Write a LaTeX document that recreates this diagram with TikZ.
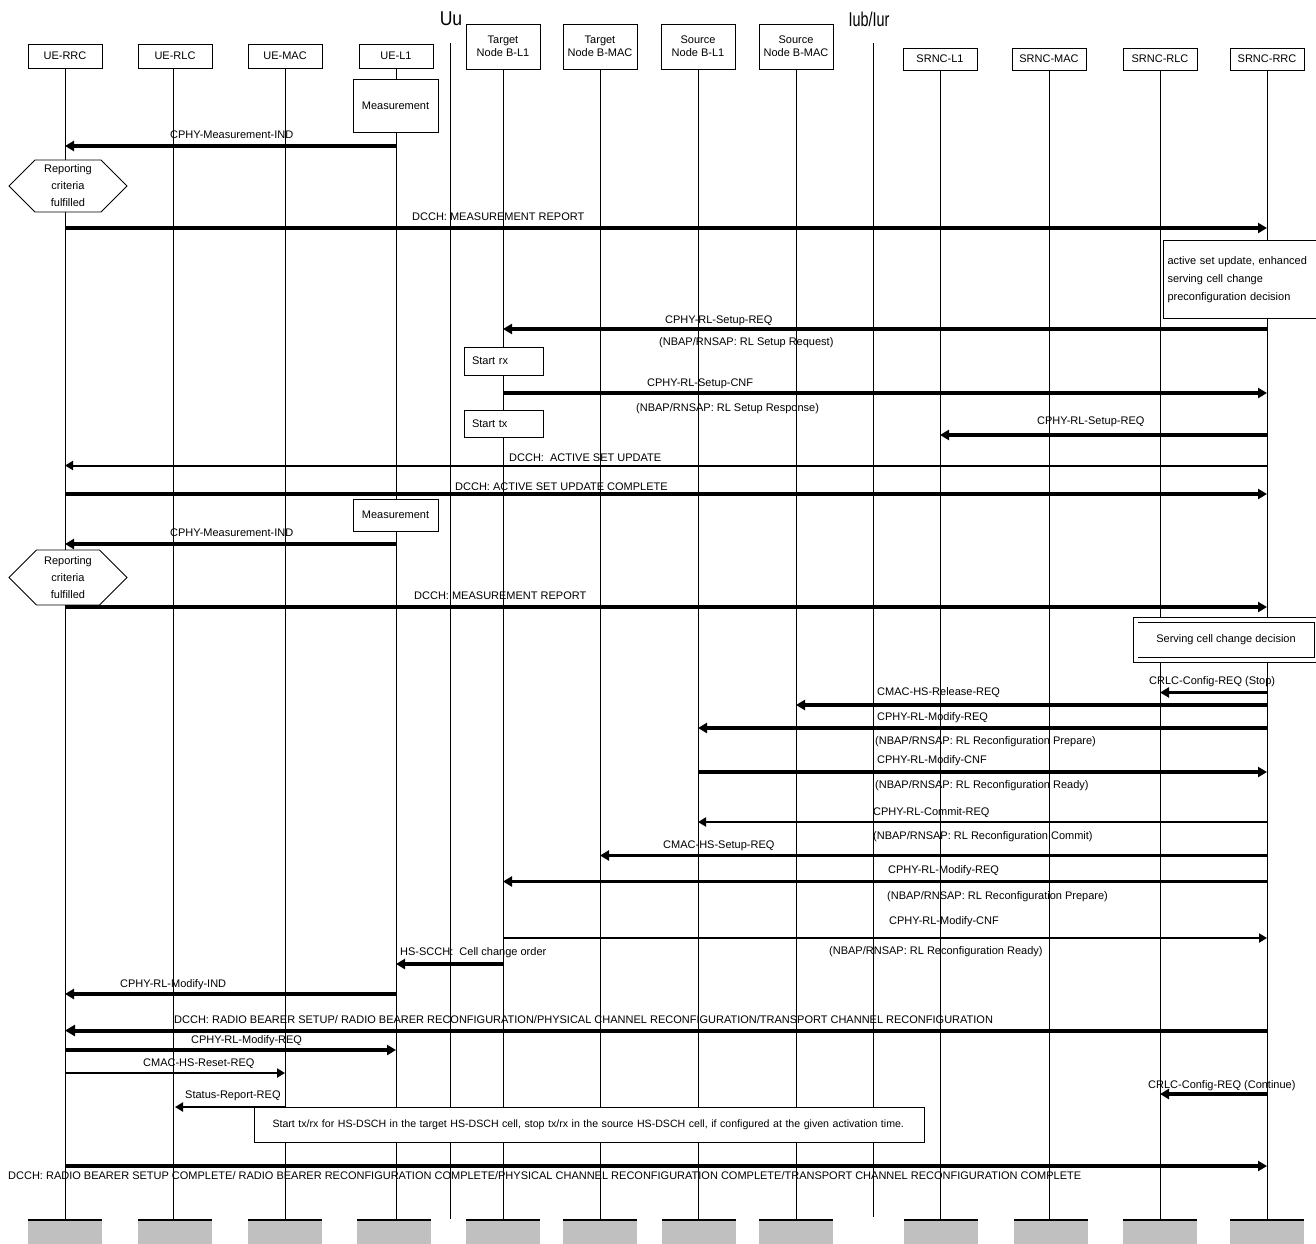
\documentclass[tikz,border=0pt]{standalone}
\usepackage{fontspec}
\setmainfont{Liberation Sans}
\usetikzlibrary{arrows.meta,shapes.symbols}
\definecolor{footgray}{HTML}{C0C0C0}
\begin{document}
\begin{tikzpicture}[x=1pt,y=-1pt,
  every node/.style={font=\fontsize{11}{13}\selectfont, inner sep=0pt},
  hdr/.style={draw, line width=0.8pt, minimum width=74pt, align=center, fill=white},
  life/.style={line width=0.8pt},
  msg/.style={line width=3.1pt, -{Triangle[length=9pt,width=10pt]}},
  msgt/.style={line width=2pt, -{Triangle[length=8pt,width=9pt]}},
  msgw/.style={line width=4pt, -{Triangle[length=10pt,width=11pt]}},
  lbl/.style={anchor=west},
  note/.style={draw, line width=1pt, fill=white},
  hexa/.style={draw, line width=0.8pt, fill=white, signal, signal to=west and east, signal pointer angle=90, minimum width=118pt, align=center, font=\fontsize{11}{17}\selectfont},
  foot/.style={fill=footgray, minimum width=74pt, minimum height=30pt, anchor=north},
]
\useasboundingbox (0,0) rectangle (1316,1243);

% ---- headers
\node[hdr, minimum height=24pt] (uerrc) at (65,56) {UE-RRC};
\node[hdr, minimum height=24pt] (uerlc) at (175,56) {UE-RLC};
\node[hdr, minimum height=24pt] (uemac) at (285,56) {UE-MAC};
\node[hdr, minimum height=24pt] (uel1) at (396,56) {UE-L1};
\node[hdr, minimum height=45pt] (tl1) at (503,46.5) {Target\\Node B-L1};
\node[hdr, minimum height=45pt] (tmac) at (600,46.5) {Target\\Node B-MAC};
\node[hdr, minimum height=45pt] (sl1) at (698,46.5) {Source\\Node B-L1};
\node[hdr, minimum height=45pt] (smac) at (796,46.5) {Source\\Node B-MAC};
\node[hdr, minimum height=22pt] (srncl1) at (940,59) {SRNC-L1};
\node[hdr, minimum height=22pt] (srncmac) at (1049,59) {SRNC-MAC};
\node[hdr, minimum height=22pt] (srncrlc) at (1160,59) {SRNC-RLC};
\node[hdr, minimum height=22pt] (srncrrc) at (1267,59) {SRNC-RRC};

% ---- footers
\node[foot] (fuerrc) at (65,1220) {};
\node[foot] (fuerlc) at (175,1220) {};
\node[foot] (fuemac) at (285,1220) {};
\node[foot] (fuel1) at (394,1220) {};
\node[foot] (ftl1) at (503,1220) {};
\node[foot] (ftmac) at (600,1220) {};
\node[foot] (fsl1) at (699,1220) {};
\node[foot] (fsmac) at (796,1220) {};
\node[foot] (fsrncl1) at (941,1220) {};
\node[foot] (fsrncmac) at (1051,1220) {};
\node[foot] (fsrncrlc) at (1160,1220) {};
\node[foot] (fsrncrrc) at (1267,1220) {};

% ---- lifelines
\foreach \n/\xx in {uerrc/65,uerlc/173,uemac/285,uel1/396,tl1/503,tmac/600,sl1/698,smac/796,srncl1/940,srncmac/1049,srncrlc/1160,srncrrc/1267}{
  \draw[life] (\n.south -| \xx,0) -- (f\n.north -| \xx,0);
  \draw[line width=1.4pt] (f\n.north west) -- (f\n.north east);
}

% ---- interfaces
\node (uu) at (451,19) {\fontsize{20}{20}\selectfont\scalebox{0.88}[1]{Uu}};
\node (iub) at (869,19) {\fontsize{20}{20}\selectfont\scalebox{0.72}[1]{Iub/Iur}};
\coordinate (uuTop) at (450,43);
\coordinate (uuBot) at (450,1219);
\coordinate (iubTop) at (873,43);
\coordinate (iubBot) at (873,1217);
\draw[life] (uuTop) -- (uuBot);
\draw[life] (iubTop) -- (iubBot);

% ---- first measurement
\node[note, minimum width=85pt, minimum height=53pt] (meas1) at (395.5,105.5) {Measurement};
\draw[msg] (uel1 |- 0,146) -- (uerrc |- 0,146);
\node[lbl] (l1) at (170,135) {CPHY-Measurement-IND};
\node[hexa, minimum height=52pt] (hex1) at (68,186) {Reporting\\criteria\\fulfilled};
\draw[msg] (uerrc |- 0,228) -- (srncrrc |- 0,228);
\node[lbl] (l2) at (412,217) {DCCH: MEASUREMENT REPORT};

\node[note, anchor=north west, minimum width=155pt, minimum height=78pt, text width=148pt, inner xsep=4pt, align=left, font=\fontsize{11}{18}\selectfont] (asu) at (1163,240) {active set update, enhanced\\serving cell change\\preconfiguration decision};

\draw[msg] (srncrrc |- 0,329) -- (tl1 |- 0,329);
\node[lbl] (l3) at (665,321) {CPHY-RL-Setup-REQ};
\node[lbl] (l3b) at (659,343) {(NBAP/RNSAP: RL Setup Request)};
\node[note, minimum width=79pt, minimum height=28pt, text width=63pt, align=left, inner xsep=8pt] (startrx) at (503.5,361) {Start rx};
\draw[msg] (tl1 |- 0,393) -- (srncrrc |- 0,393);
\node[lbl] (l4) at (647,384) {CPHY-RL-Setup-CNF};
\node[lbl] (l4b) at (636,409) {(NBAP/RNSAP: RL Setup Response)};
\node[note, minimum width=79pt, minimum height=27pt, text width=63pt, align=left, inner xsep=8pt] (starttx) at (503.5,423.5) {Start tx};
\draw[msg] (srncrrc |- 0,435) -- (srncl1 |- 0,435);
\node[lbl] (l5) at (1037,422) {CPHY-RL-Setup-REQ};
\draw[msgt] (srncrrc |- 0,465.5) -- (uerrc |- 0,465.5);
\node[lbl] (l6) at (509,458) {DCCH:~ ACTIVE SET UPDATE};
\draw[msg] (uerrc |- 0,494) -- (srncrrc |- 0,494);
\node[lbl] (l7) at (455,487) {DCCH: ACTIVE SET UPDATE COMPLETE};

% ---- second measurement
\node[note, minimum width=85pt, minimum height=32pt] (meas2) at (395.5,515) {Measurement};
\draw[msg] (uel1 |- 0,544) -- (uerrc |- 0,544);
\node[lbl] (l8) at (170,533) {CPHY-Measurement-IND};
\node[hexa, minimum height=55pt] (hex2) at (68,577.5) {Reporting\\criteria\\fulfilled};
\draw[msg] (uerrc |- 0,607) -- (srncrrc |- 0,607);
\node[lbl] (l9) at (414,596) {DCCH: MEASUREMENT REPORT};

\node[draw, double, double distance=4pt, line width=0.9pt, fill=white, minimum width=181pt, minimum height=40pt] (scc) at (1226,640) {Serving cell change decision};

\draw[msg] (srncrrc |- 0,692.5) -- (srncrlc |- 0,692.5);
\node[lbl] (l10) at (1149,682) {CRLC-Config-REQ (Stop)};
\draw[msg] (srncrrc |- 0,705) -- (smac |- 0,705);
\node[lbl] (l11) at (877,693) {CMAC-HS-Release-REQ};
\draw[msg] (srncrrc |- 0,728) -- (sl1 |- 0,728);
\node[lbl] (l12) at (877,718) {CPHY-RL-Modify-REQ};
\node[lbl] (l12b) at (875,742) {(NBAP/RNSAP: RL Reconfiguration Prepare)};
\draw[msg] (sl1 |- 0,772) -- (srncrrc |- 0,772);
\node[lbl] (l13) at (877,761) {CPHY-RL-Modify-CNF};
\node[lbl] (l13b) at (875,786) {(NBAP/RNSAP: RL Reconfiguration Ready)};
\draw[msgt] (srncrrc |- 0,822) -- (sl1 |- 0,822);
\node[lbl] (l14) at (873,813) {CPHY-RL-Commit-REQ};
\node[lbl] (l14b) at (873,837) {(NBAP/RNSAP: RL Reconfiguration Commit)};
\draw[msg] (srncrrc |- 0,855.5) -- (tmac |- 0,855.5);
\node[lbl] (l15) at (663,846) {CMAC-HS-Setup-REQ};
\draw[msg] (srncrrc |- 0,881.5) -- (tl1 |- 0,881.5);
\node[lbl] (l16) at (888,871) {CPHY-RL-Modify-REQ};
\node[lbl] (l16b) at (887,897) {(NBAP/RNSAP: RL Reconfiguration Prepare)};
\draw[msgt] (tl1 |- 0,938) -- (srncrrc |- 0,938);
\node[lbl] (l17) at (889,922) {CPHY-RL-Modify-CNF};
\node[lbl] (l17b) at (829,952) {(NBAP/RNSAP: RL Reconfiguration Ready)};
\draw[msg] (tl1 |- 0,964) -- (uel1 |- 0,964);
\node[lbl] (l18) at (400,953) {HS-SCCH:~ Cell change order};
\draw[msg] (uel1 |- 0,994) -- (uerrc |- 0,994);
\node[lbl] (l19) at (120,985) {CPHY-RL-Modify-IND};
\draw[msgw] (srncrrc |- 0,1030.5) -- (uerrc |- 0,1030.5);
\node[lbl] (l20) at (174,1020) {DCCH: RADIO BEARER SETUP/ RADIO BEARER RECONFIGURATION/PHYSICAL CHANNEL RECONFIGURATION/TRANSPORT CHANNEL RECONFIGURATION};
\draw[msg] (uerrc |- 0,1050) -- (uel1 |- 0,1050);
\node[lbl] (l21) at (191,1041) {CPHY-RL-Modify-REQ};
\draw[msgt] (uerrc |- 0,1073) -- (uemac |- 0,1073);
\node[lbl] (l22) at (143,1064) {CMAC-HS-Reset-REQ};
\draw[msg] (srncrrc |- 0,1094) -- (srncrlc |- 0,1094);
\node[lbl] (l23) at (1148,1086) {CRLC-Config-REQ (Continue)};
\draw[msgt] (uemac |- 0,1107) -- (uerlc |- 0,1107);
\node[lbl] (l24) at (185,1096) {Status-Report-REQ};
\node[note, minimum width=670pt, minimum height=35pt, text width=650pt, inner xsep=10pt, align=left, font=\fontsize{10.6}{12}\selectfont] (actbox) at (589.5,1124.5) {\hspace*{8pt}Start tx/rx for HS-DSCH in the target HS-DSCH cell, stop tx/rx in the source HS-DSCH cell, if configured at the given activation time.};
\draw[msg] (uerrc |- 0,1166) -- (srncrrc |- 0,1166);
\node[lbl] (l25) at (8,1176) {DCCH: RADIO BEARER SETUP COMPLETE/ RADIO BEARER RECONFIGURATION COMPLETE/PHYSICAL CHANNEL RECONFIGURATION COMPLETE/TRANSPORT CHANNEL RECONFIGURATION COMPLETE};
\end{tikzpicture}
\end{document}
